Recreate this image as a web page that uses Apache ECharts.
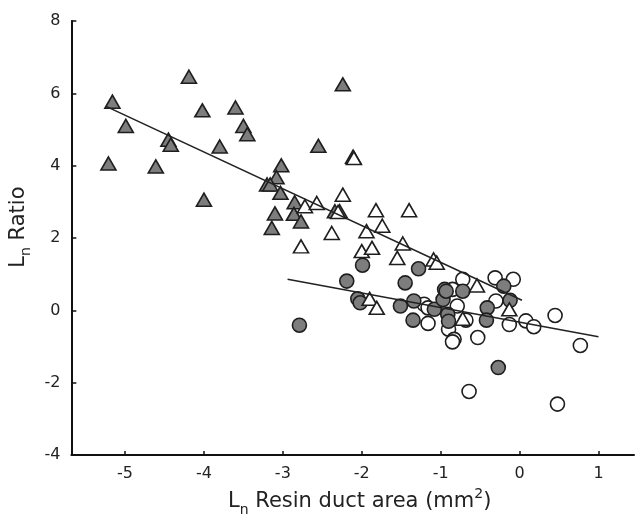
<!DOCTYPE html>
<html>
<head>
<meta charset="utf-8">
<script src="https://cdn.jsdelivr.net/npm/echarts@6/dist/echarts.min.js"></script>
<style>html,body{margin:0;padding:0;background:#fff}#c{width:635px;height:522px}</style>
</head>
<body>
<div id="c"></div>
<script>
const xTicks = [-5, -4, -3, -2, -1, 0, 1];
const yTicks = [-4, -2, 0, 2, 4, 6, 8];

const grayTriangles = [
  [-5.16,5.77],[-4.99,5.10],[-5.21,4.06],[-4.19,6.46],[-4.02,5.53],[-4.45,4.72],[-4.42,4.58],
  [-4.61,3.98],[-4.00,3.06],[-3.80,4.53],[-3.60,5.61],[-3.50,5.10],[-3.45,4.87],[-3.02,4.01],
  [-3.08,3.68],[-3.20,3.48],[-3.16,3.48],[-3.03,3.25],[-2.85,2.99],[-3.10,2.68],[-2.86,2.67],
  [-2.77,2.46],[-3.14,2.28],[-2.55,4.55],[-2.24,6.25],[-2.34,2.74],[-2.28,2.74],[-2.11,4.25]
];
const whiteTriangles = [
  [-2.72,2.88],[-2.57,2.97],[-2.24,3.20],[-2.30,2.72],[-2.38,2.14],[-2.77,1.77],[-2.10,4.21],
  [-1.82,2.77],[-1.40,2.77],[-1.94,2.19],[-1.74,2.34],[-1.48,1.85],[-2.00,1.64],[-1.87,1.73],
  [-1.55,1.45],[-1.09,1.41],[-1.05,1.32],[-1.90,0.32],[-1.81,0.07],[-0.54,0.69],[-0.13,0.03],
  [-0.72,-0.23]
];
const grayCircles = [
  [-1.99,1.25],[-1.28,1.15],[-2.19,0.81],[-1.45,0.76],[-2.05,0.32],[-2.02,0.21],[-1.51,0.12],
  [-1.34,0.26],[-1.08,0.03],[-0.97,0.30],[-0.95,0.58],[-0.93,0.53],[-0.72,0.53],[-0.20,0.67],
  [-0.12,0.28],[-0.41,0.07],[-0.42,-0.27],[-1.35,-0.27],[-0.91,-0.11],[-0.90,-0.30],[-2.79,-0.41],
  [-0.27,-1.58]
];
const whiteCircles = [
  [-1.21,0.17],[-1.16,0.07],[-1.16,-0.36],[-0.85,0.58],[-0.72,0.86],[-0.31,0.90],[-0.08,0.86],
  [-0.30,0.26],[-0.13,-0.39],[0.08,-0.29],[0.18,-0.45],[0.45,-0.14],[0.77,-0.97],[-0.79,0.12],
  [-0.68,-0.27],[-0.90,-0.52],[-0.83,-0.80],[-0.85,-0.87],[-0.53,-0.75],[-0.64,-2.24],[0.48,-2.59]
];
const triangleFit = [[-5.24,5.64],[0.03,0.28]];
const circleFit = [[-2.94,0.86],[1.00,-0.73]];

const FONT = 'DejaVu Sans, Liberation Sans, sans-serif';
const stroke = '#1e1e1e';
const gray = '#7d7d7d';

function scatter(data, symbol, fill, size) {
  return {
    type: 'scatter', data: data, symbol: symbol, symbolSize: size,
    itemStyle: { color: fill, borderColor: stroke, borderWidth: 1.6, opacity: 1 },
    emphasis: { disabled: true }, silent: true, z: 3
  };
}
function fitLine(data) {
  return {
    type: 'line', data: data, symbol: 'none', silent: true, z: 5,
    lineStyle: { color: '#222', width: 1.6 }
  };
}

const nameRich = {
  b: { fontSize: 21, fontFamily: FONT, color: '#222', lineHeight: 30, verticalAlign: 'middle' },
  s: { fontSize: 14, fontFamily: FONT, color: '#222', lineHeight: 14, verticalAlign: 'bottom' },
  p: { fontSize: 14, fontFamily: FONT, color: '#222', lineHeight: 19, verticalAlign: 'top' }
};

const chart = echarts.init(document.getElementById('c'), null, { renderer: 'canvas' });
chart.setOption({
  animation: false,
  backgroundColor: '#fff',
  grid: { left: 69, right: 1, top: 21, bottom: 66, containLabel: false },
  xAxis: {
    type: 'value', min: -5.68, max: 1.45,
    axisLine: { show: true, onZero: false, lineStyle: { color: '#111', width: 2 } },
    axisTick: { show: true, inside: true, length: 4, customValues: xTicks, lineStyle: { color: '#111', width: 1.5 } },
    axisLabel: { customValues: xTicks, fontSize: 16, fontFamily: FONT, color: '#222', margin: 11 },
    splitLine: { show: false },
    name: '{b|L}{s|n}{b| Resin duct area (mm}{p|2}{b|)}',
    nameLocation: 'middle', nameGap: 27,
    nameTextStyle: { rich: nameRich, padding: [0, 0, 0, 14] }
  },
  yAxis: {
    type: 'value', min: -4, max: 8, interval: 2,
    axisLine: { show: true, onZero: false, lineStyle: { color: '#111', width: 2 } },
    axisTick: { show: true, inside: true, length: 5, lineStyle: { color: '#111', width: 1.5 } },
    axisLabel: { fontSize: 16, fontFamily: FONT, color: '#222', margin: 11 },
    splitLine: { show: false },
    name: '{b|L}{s|n}{b| Ratio}',
    nameLocation: 'middle', nameGap: 30,
    nameTextStyle: { rich: nameRich, padding: [0, 0, 0, 22] }
  },
  series: [
    scatter(whiteCircles, 'circle', '#ffffff', 14),
    scatter(grayCircles, 'circle', gray, 14),
    scatter(grayTriangles, 'triangle', gray, [15, 13]),
    scatter(whiteTriangles, 'triangle', '#ffffff', [15, 13]),
    fitLine(triangleFit),
    fitLine(circleFit)
  ]
});
</script>
</body>
</html>
